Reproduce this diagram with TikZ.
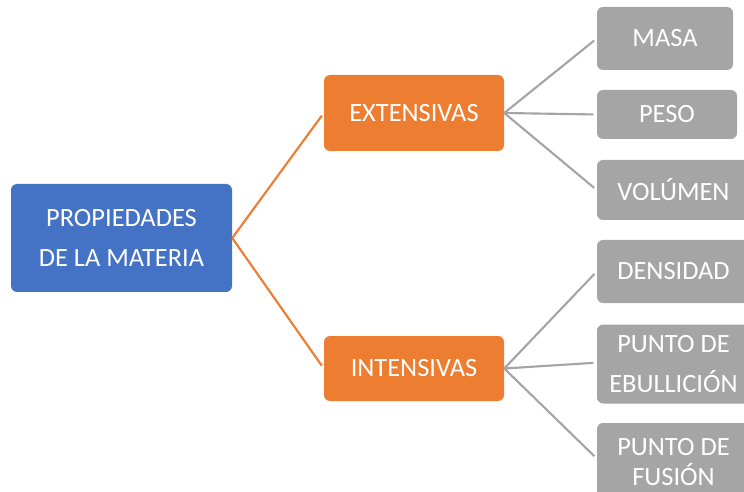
\documentclass[tikz,border=0pt]{standalone}
\usepackage{fontspec}
\setmainfont{Carlito}
\definecolor{cblue}{HTML}{4472C4}
\definecolor{corange}{HTML}{ED7D31}
\definecolor{cgray}{HTML}{A5A5A5}
\begin{document}
\begin{tikzpicture}[x=0.75pt,y=-0.75pt,
  box/.style={rounded corners=4.5pt, text=white, align=center, inner sep=0pt,
    font=\fontsize{19.8}{30.5}\selectfont},
  rootbox/.style={box, fill=cblue, minimum width=221*0.75pt, minimum height=108*0.75pt},
  midbox/.style={box, fill=corange, minimum width=180*0.75pt},
  leafbox/.style={box, fill=cgray, minimum width=153*0.75pt},
  olink/.style={draw=corange, line width=1.6pt},
  glink/.style={draw=cgray, line width=1.6pt, shorten >=2.5pt}]
\useasboundingbox (0,0) rectangle (744,492);
\node[rootbox] (root) at (121.5,238) {PROPIEDADES\\DE LA MATERIA};
\node[midbox, minimum height=76*0.75pt] (ext) at (414,113) {EXTENSIVAS};
\node[midbox, minimum height=65*0.75pt] (int) at (414,368.5) {INTENSIVAS};
\node[leafbox, minimum width=136*0.75pt, minimum height=63*0.75pt] (masa) at (665,38.5) {MASA};
\node[leafbox, minimum width=140*0.75pt, minimum height=49*0.75pt] (peso) at (667,114.5) {PESO};
\node[leafbox, minimum height=60*0.75pt] (vol) at (673.5,190) {VOLÚMEN};
\node[leafbox, minimum height=63*0.75pt] (dens) at (673.5,271.5) {DENSIDAD};
\node[leafbox, minimum height=79*0.75pt, font=\fontsize{19.8}{29.3}\selectfont] (ebu) at (673.5,364) {PUNTO DE\\EBULLICIÓN};
\node[leafbox, minimum height=79*0.75pt, font=\fontsize{19.8}{22.5}\selectfont] (fus) at (673.5,462.5) {PUNTO DE\\FUSIÓN};
\draw[olink, shorten >=2.5pt] (root.east) -- (ext.west);
\draw[olink, shorten >=2.5pt] (root.east) -- (int.west);
\draw[glink] (ext.east) -- (masa.west);
\draw[glink] (ext.east) -- (peso.west);
\draw[glink] (ext.east) -- (vol.west);
\draw[glink] (int.east) -- (dens.west);
\draw[glink] (int.east) -- ([yshift=1pt]ebu.west);
\draw[glink] (int.east) -- ([yshift=3pt]fus.west);
\end{tikzpicture}
\end{document}
